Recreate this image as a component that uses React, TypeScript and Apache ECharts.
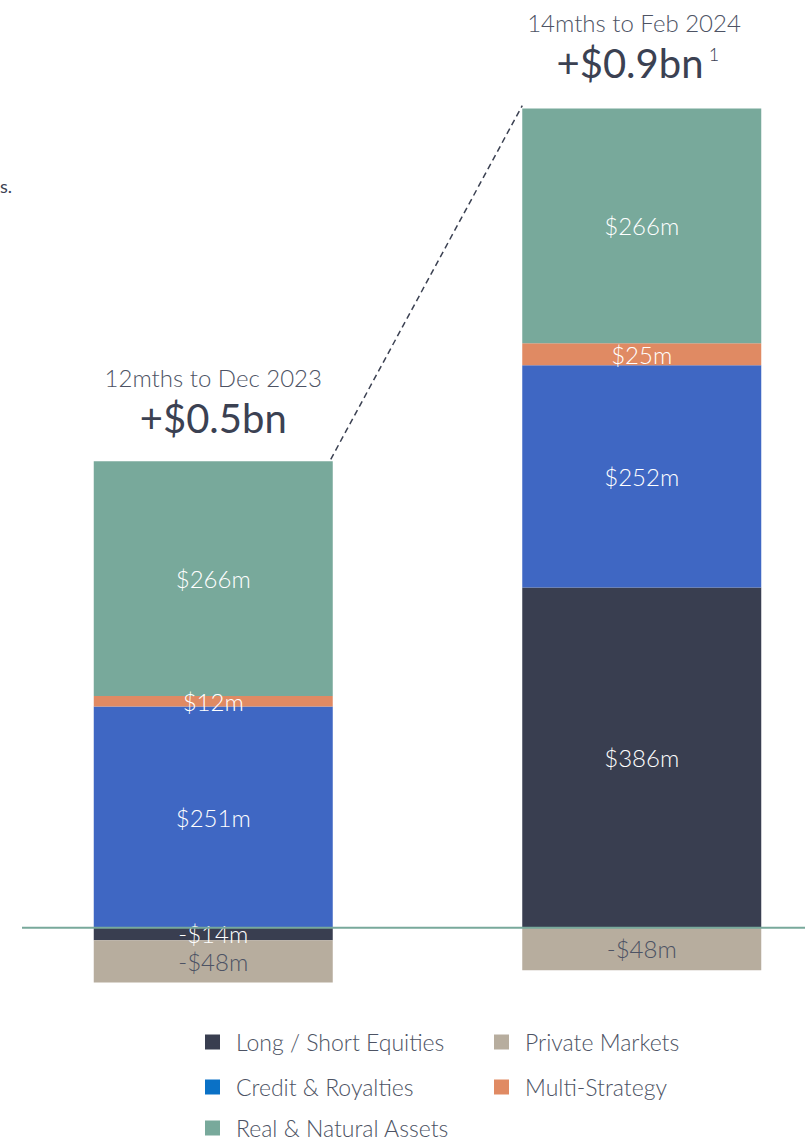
import React, { useEffect, useRef } from "react";
import * as echarts from "echarts";

const categories = ["12mths to Dec 2023", "14mths to Feb 2024"];
const totals = ["+$0.5bn", "+$0.9bn"];
const longShort = [-14, 386];
const credit = [251, 252];
const multi = [12, 25];
const realAssets = [266, 266];
const privateMkts = [-48, -48];

const FONT_LIGHT = "'Lato Light', Lato, 'Open Sans', sans-serif";
const FONT = "Lato, 'Open Sans', sans-serif";
const TEXT_DARK = "#3b4152";
const TEXT_MID = "#4d5364";

const fmt = (v: number) => (v >= 0 ? `$${v}m` : `-$${Math.abs(v)}m`);

export default function App() {
  const ref = useRef<HTMLDivElement>(null);
  useEffect(() => {
    if (!ref.current) return;
    const chart = echarts.init(ref.current, null, { renderer: "svg" });
    const BW = 239;
    const label = (color: string) => ({
      show: true,
      position: "inside",
      color,
      fontFamily: FONT_LIGHT,
      fontWeight: 300,
      fontSize: 24,
      formatter: (p: any) => fmt(p.value),
    });
    const mk = (name: string, data: number[], color: string, lc = "#ffffff") => ({
      name,
      type: "bar",
      stack: "total",
      barWidth: BW,
      data,
      itemStyle: { color },
      label: label(lc),
    });
    const legendItem = (name: string, left: number, cy: number, color?: string) => ({
      orient: "horizontal",
      left,
      top: cy - 12,
      padding: 0,
      itemWidth: 15,
      itemHeight: 15,
      icon: "rect",
      textStyle: {
        fontFamily: FONT_LIGHT,
        fontWeight: 300,
        fontSize: 23,
        color: TEXT_MID,
        lineHeight: 24,
        padding: [0, 0, 0, 11],
      },
      data: [color ? { name, itemStyle: { color } } : { name }],
    });
    chart.setOption({
      animation: false,
      grid: { left: -1, width: 857, top: 46, height: 970, outerBoundsMode: "none", containLabel: false },
      xAxis: {
        type: "category",
        data: categories,
        axisLine: { show: false },
        axisTick: { show: false },
        axisLabel: { show: false },
      },
      yAxis: {
        type: "value",
        min: -100,
        max: 1000,
        show: false,
        splitLine: { show: false },
      },
      legend: [
        legendItem("Long / Short Equities", 205, 1042),
        legendItem("Credit & Royalties", 205, 1087, "#0a71c6"),
        legendItem("Real & Natural Assets", 205, 1128),
        legendItem("Private Markets", 494, 1042),
        legendItem("Multi-Strategy", 494, 1087),
      ],
      series: [
        mk("Long / Short Equities", longShort, "#393e50"),
        mk("Credit & Royalties", credit, "#3f67c3"),
        mk("Multi-Strategy", multi, "#e08a63"),
        mk("Real & Natural Assets", realAssets, "#78a99b"),
        mk("Private Markets", privateMkts, "#b7ad9e", TEXT_MID),
      ],
    });

    const y0 = chart.convertToPixel({ yAxisIndex: 0 }, 0) as number;
    const topL = realAssets[0] + multi[0] + credit[0] + Math.max(longShort[0], 0);
    const topR = realAssets[1] + multi[1] + credit[1] + Math.max(longShort[1], 0);
    const pL = chart.convertToPixel({ gridIndex: 0 }, [0, topL]) as number[];
    const pR = chart.convertToPixel({ gridIndex: 0 }, [1, topR]) as number[];

    chart.setOption({
      graphic: [
        {
          type: "line",
          z: 100,
          shape: { x1: 22, y1: y0, x2: 805, y2: y0 },
          style: { stroke: "#78a99b", lineWidth: 2 },
        },
        {
          type: "line",
          z: 100,
          shape: { x1: pL[0] + BW / 2 - 2, y1: pL[1] - 2, x2: pR[0] - BW / 2, y2: pR[1] - 3 },
          style: { stroke: TEXT_DARK, lineWidth: 1.5, lineDash: [6, 4] },
        },
        {
          type: "text",
          x: pL[0],
          y: 377,
          style: { text: categories[0], fontFamily: FONT_LIGHT, fontWeight: 300, fontSize: 24, fill: TEXT_MID, align: "center", verticalAlign: "middle" },
        },
        {
          type: "text",
          x: pL[0],
          y: 418,
          style: { text: totals[0], fontFamily: FONT, fontWeight: 400, fontSize: 40, fill: TEXT_DARK, align: "center", verticalAlign: "middle" },
        },
        {
          type: "text",
          x: 634,
          y: 22,
          style: { text: categories[1], fontFamily: FONT_LIGHT, fontWeight: 300, fontSize: 24, fill: TEXT_MID, align: "center", verticalAlign: "middle" },
        },
        {
          type: "text",
          x: 630,
          y: 63,
          style: { text: totals[1], fontFamily: FONT, fontWeight: 400, fontSize: 40, fill: TEXT_DARK, align: "center", verticalAlign: "middle" },
        },
        {
          type: "text",
          x: 714,
          y: 54,
          style: { text: "1", fontFamily: FONT_LIGHT, fontWeight: 300, fontSize: 18, fill: TEXT_DARK, align: "center", verticalAlign: "middle" },
        },
        {
          type: "text",
          x: 0,
          y: 186,
          style: { text: "s.", fontFamily: FONT, fontWeight: 400, fontSize: 18, fill: TEXT_DARK, align: "left", verticalAlign: "middle" },
        },
      ],
    });
    return () => chart.dispose();
  }, []);
  return (
    <div
      ref={ref}
      style={{ position: "absolute", left: 0, top: 0, width: 805, height: 1142, background: "#ffffff" }}
    />
  );
}
